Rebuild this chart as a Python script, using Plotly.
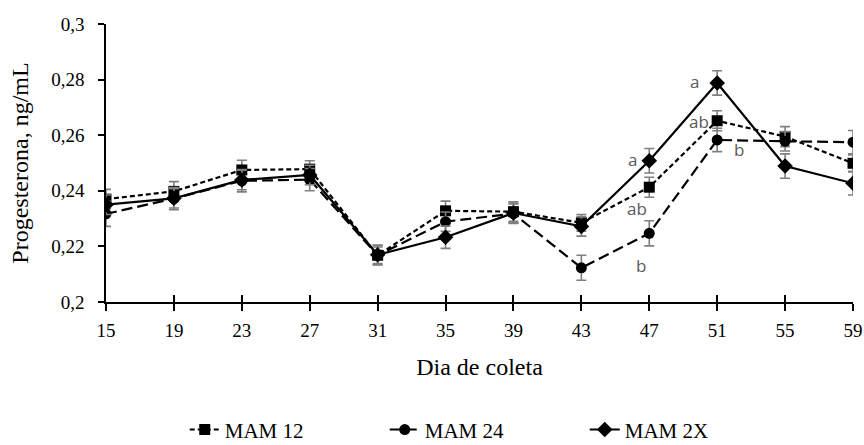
import plotly.graph_objects as go

dias = [15, 19, 23, 27, 31, 35, 39, 43, 47, 51, 55, 59]

mam12 = [0.2370, 0.2398, 0.2475, 0.2478, 0.2168, 0.2328, 0.2325, 0.2285, 0.2413, 0.2652, 0.2595, 0.2499]
mam12_err = [0.0035, 0.0035, 0.0035, 0.0030, 0.0030, 0.0035, 0.0035, 0.0030, 0.0036, 0.0036, 0.0036, 0.0030]

mam24 = [0.2317, 0.2372, 0.2436, 0.2440, 0.2168, 0.2289, 0.2318, 0.2123, 0.2247, 0.2583, 0.2578, 0.2575]
mam24_err = [0.0045, 0.0040, 0.0040, 0.0040, 0.0035, 0.0035, 0.0035, 0.0045, 0.0045, 0.0042, 0.0035, 0.0042]

mam2x = [0.2350, 0.2373, 0.2439, 0.2457, 0.2170, 0.2233, 0.2320, 0.2272, 0.2508, 0.2788, 0.2489, 0.2427]
mam2x_err = [0.0035, 0.0035, 0.0035, 0.0035, 0.0035, 0.0040, 0.0035, 0.0035, 0.0044, 0.0044, 0.0044, 0.0042]

y_ticks = [0.20, 0.22, 0.24, 0.26, 0.28, 0.30]
y_ticktext = ["0,2", "0,22", "0,24", "0,26", "0,28", "0,3"]

serif = "Liberation Serif, Times New Roman, serif"
err_color = "#7f7f7f"

series = [
    ("MAM 12", mam12, mam12_err, "5px,3px", "square", 11),
    ("MAM 24", mam24, mam24_err, "11px,5px", "circle", 11),
    ("MAM 2X", mam2x, mam2x_err, "solid", "diamond", 12),
]

fig = go.Figure()
for name, vals, errs, dash, sym, size in series:
    fig.add_trace(go.Scatter(
        x=dias, y=vals, name=name, mode="lines+markers",
        line=dict(color="black", width=2.2, dash=dash),
        marker=dict(color="black", symbol=sym, size=size),
        error_y=dict(type="data", array=errs, visible=True,
                     color=err_color, thickness=1.6, width=5),
    ))

# significance letters at days 47 and 51
i47, i51 = dias.index(47), dias.index(51)
letters = [
    (47, mam2x[i47], "a", -17, 1),
    (47, mam12[i47], "ab", -12, -21),
    (47, mam24[i47], "b", -8, -32),
    (51, mam2x[i51], "a", -23, 1),
    (51, mam12[i51], "ab", -18, -1),
    (51, mam24[i51], "b", 22, -10),
]
for x, y, t, dx, dy in letters:
    fig.add_annotation(x=x, y=y, text=t, showarrow=False, xshift=dx, yshift=dy,
                       font=dict(family="Open Sans, Liberation Sans, sans-serif",
                                 size=17, color="#595959"))

fig.update_layout(
    width=864, height=445,
    margin=dict(l=106, r=11, t=24, b=143, autoexpand=False),
    paper_bgcolor="white", plot_bgcolor="white",
    separators=", ",
    font=dict(family=serif, size=19, color="black"),
    showlegend=True,
    legend=dict(orientation="h", x=0.507, xanchor="center",
                yref="container", y=0.034, yanchor="middle",
                font=dict(family=serif, size=21), entrywidth=155,
                traceorder="normal"),
    xaxis=dict(
        range=[15, 59], tickvals=dias, ticks="outside", ticklen=7, tickwidth=1.5,
        tickcolor="black", showline=True, linecolor="black", linewidth=1.5,
        showgrid=False, zeroline=False, ticklabelstandoff=3, automargin=False,
        title=dict(text="Dia de coleta", font=dict(family=serif, size=24), standoff=19),
        tickfont=dict(family=serif, size=19),
    ),
    xaxis2=dict(
        range=[15, 59], tickvals=dias, ticks="inside", ticklen=7, tickwidth=1.5,
        tickcolor="black", showticklabels=False, showgrid=False, zeroline=False,
        overlaying="x", anchor="y",
    ),
    yaxis=dict(
        range=[0.2, 0.3], tickvals=y_ticks, ticktext=y_ticktext,
        ticks="outside", ticklen=6, tickwidth=1.5, tickcolor="black",
        showline=True, linecolor="black", linewidth=1.5,
        showgrid=False, zeroline=False, ticklabelstandoff=10, automargin=False,
        title=dict(text="Progesterona, ng/mL", font=dict(family=serif, size=24), standoff=16),
        tickfont=dict(family=serif, size=19),
    ),
)

# invisible trace to activate the crossing tick marks on the overlay axis
fig.add_trace(go.Scatter(x=[dias[0]], y=[mam12[0]], xaxis="x2", mode="markers",
                         marker=dict(opacity=0), showlegend=False, hoverinfo="skip"))

fig.write_html("out.html")
